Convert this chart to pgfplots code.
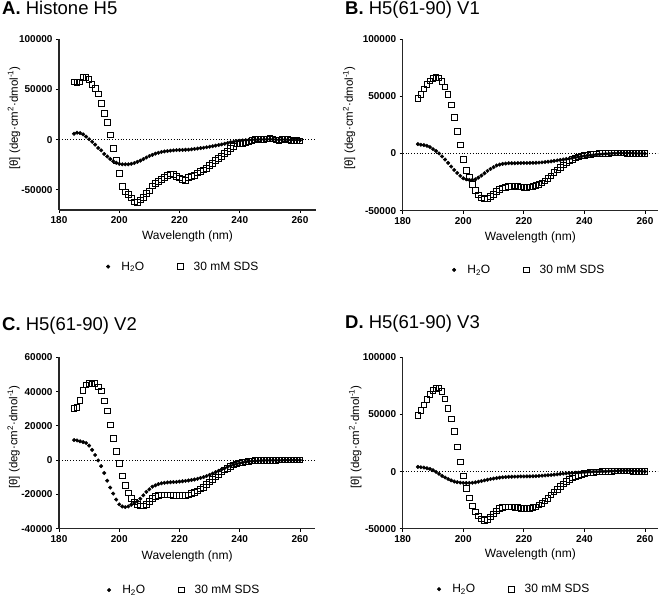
\documentclass[border=0pt]{standalone}
\usepackage{fontspec}
\setmainfont{Liberation Sans}
\usepackage{pgfplots}
\usepackage{pgfplotstable}
\pgfplotsset{compat=1.18}

\pgfplotstableread{
nm h s
185 5800 57400
186 6800 57000
187 6500 57400
188 5200 61700
189 2900 62000
190 300 59800
191 -2200 54800
192 -5000 51100
193 -8300 45200
194 -10700 36200
195 -14300 25900
196 -16800 16900
197 -19300 4600
198 -21500 -8600
199 -23000 -21000
200 -24100 -33900
201 -24600 -46500
202 -24600 -52100
203 -24600 -54800
204 -24100 -58100
205 -23300 -62100
206 -22200 -62700
207 -20900 -60100
208 -19400 -57800
209 -17800 -53800
210 -16300 -51100
211 -15200 -46100
212 -14000 -43800
213 -13100 -41500
214 -12300 -39500
215 -11800 -37800
216 -11400 -35500
217 -11000 -34200
218 -10700 -34500
219 -10500 -36900
220 -10300 -38200
221 -10300 -39500
222 -10100 -40500
223 -10000 -37800
224 -9700 -36500
225 -9300 -35500
226 -8900 -33000
227 -8500 -31500
228 -8100 -30000
229 -7600 -28500
230 -7100 -25500
231 -6600 -23500
232 -6000 -21000
233 -5400 -18500
234 -4800 -16500
235 -4100 -14000
236 -3400 -12000
237 -2700 -9000
238 -2100 -7000
239 -1600 -4500
240 -1200 -4000
241 -900 -3700
242 -600 -3300
243 -400 -2500
244 -200 -1000
245 0 0
246 0 500
247 200 300
248 100 0
249 200 500
250 300 1000
251 200 500
252 0 -500
253 -200 -800
254 0 300
255 100 500
256 -200 0
257 -400 -1000
258 -500 -1200
259 -500 -1000
260 -600 -1300
}\dataA

\pgfplotstableread{
nm h s
185 8200 47800
186 7600 51300
187 7300 56300
188 6700 60100
189 5600 63300
190 3800 65300
191 2100 66500
192 0 65900
193 -2600 62700
194 -5300 58000
195 -8200 51300
196 -11400 42500
197 -14400 31400
198 -17000 19300
199 -19600 7300
200 -21700 -5000
201 -22600 -14600
202 -23100 -21100
203 -23100 -27000
204 -22600 -32200
205 -21100 -36300
206 -19300 -38700
207 -17300 -39600
208 -15200 -39300
209 -13500 -37800
210 -12000 -35700
211 -10500 -33100
212 -9700 -31600
213 -9100 -30200
214 -8800 -29600
215 -8500 -29000
216 -8500 -28700
217 -8500 -28400
218 -8400 -28700
219 -8400 -29300
220 -8300 -29600
221 -8300 -29600
222 -8200 -29300
223 -8200 -28700
224 -8100 -28100
225 -8000 -27200
226 -7800 -25800
227 -7500 -24000
228 -7200 -22000
229 -6900 -19500
230 -6500 -16800
231 -6100 -14300
232 -5700 -12000
233 -5300 -9900
234 -4900 -8000
235 -4500 -6400
236 -4000 -5000
237 -3500 -3800
238 -3000 -2900
239 -2600 -2100
240 -2200 -1500
241 -1800 -1200
242 -1500 -900
243 -1200 -600
244 -900 -400
245 -700 -200
246 -500 0
247 -300 100
248 -200 200
249 0 300
250 100 400
251 200 400
252 300 300
253 300 300
254 300 200
255 300 200
256 200 100
257 100 0
258 0 -100
259 0 -200
260 -100 -200
}\dataB

\pgfplotstableread{
nm h s
185 11700 30000
186 11500 30900
187 11000 34800
188 10500 40500
189 10000 43800
190 8500 44900
191 6000 44500
192 3000 44700
193 -200 42800
194 -3500 40300
195 -7500 34600
196 -12000 28600
197 -16000 20600
198 -19500 12800
199 -23000 5100
200 -25800 -2100
201 -27000 -9300
202 -27400 -14800
203 -27000 -19100
204 -26000 -22400
205 -25000 -24500
206 -24000 -25900
207 -22500 -26800
208 -20500 -26800
209 -18500 -25900
210 -17000 -24100
211 -15500 -22400
212 -14700 -21200
213 -14000 -20600
214 -13500 -20200
215 -13200 -20200
216 -13000 -20200
217 -12900 -20400
218 -12800 -20600
219 -12700 -20600
220 -12500 -20600
221 -12300 -20600
222 -12100 -20600
223 -11900 -20200
224 -11600 -19600
225 -11300 -18900
226 -10900 -17900
227 -10400 -16900
228 -9900 -15800
229 -9300 -14300
230 -8600 -12700
231 -7800 -11300
232 -7000 -9800
233 -6200 -8400
234 -5400 -7000
235 -4700 -5800
236 -4000 -4700
237 -3300 -3700
238 -2700 -2900
239 -2200 -2200
240 -1800 -1700
241 -1400 -1300
242 -1100 -1000
243 -800 -700
244 -600 -500
245 -500 -300
246 -400 -200
247 -300 -200
248 -200 -100
249 -200 -100
250 -100 -100
251 -100 -100
252 -100 -100
253 -100 0
254 -100 0
255 0 0
256 0 0
257 0 0
258 0 0
259 0 0
260 0 0
}\dataC

\pgfplotstableread{
nm h s
185 4100 48900
186 3800 53300
187 3500 58300
188 2900 63000
189 2300 67400
190 1200 71200
191 -300 73000
192 -2000 73300
193 -3800 70300
194 -5200 63600
195 -6500 55100
196 -7700 46000
197 -8700 34900
198 -9300 21700
199 -9700 8500
200 -9900 -3800
201 -10000 -14700
202 -10000 -23100
203 -9800 -30200
204 -9400 -35200
205 -8900 -39000
206 -8300 -41300
207 -7700 -42800
208 -7100 -41900
209 -6600 -39800
210 -6100 -37200
211 -5700 -34600
212 -5300 -32500
213 -5000 -31600
214 -4800 -31100
215 -4600 -30800
216 -4500 -31100
217 -4400 -31400
218 -4400 -31600
219 -4300 -32200
220 -4300 -32500
221 -4200 -32500
222 -4200 -32200
223 -4100 -31600
224 -4000 -30800
225 -3800 -29300
226 -3600 -27800
227 -3400 -25800
228 -3200 -23700
229 -3000 -20500
230 -2700 -17900
231 -2400 -15500
232 -2100 -13200
233 -1800 -10800
234 -1600 -8800
235 -1400 -7000
236 -1200 -5600
237 -1000 -4100
238 -900 -3200
239 -700 -2300
240 -600 -1800
241 -400 -1200
242 -300 -900
243 -200 -600
244 -100 -400
245 0 -200
246 100 0
247 200 100
248 300 200
249 400 300
250 500 400
251 600 500
252 700 500
253 800 600
254 900 500
255 800 400
256 600 300
257 500 200
258 300 100
259 200 0
260 100 -100
}\dataD

\pgfplotsset{
  cdstyle/.style={
    scale only axis, anchor=south west,
    axis x line*=bottom, axis y line*=left,
    xmin=180, xtick={180,200,...,260},
    enlargelimits=false,
    tick align=outside, major tick length=3pt,
    tick style={black, line width=0.8pt},
    axis line style={black!85, line width=1.1pt},
    ticklabel style={font=\fontsize{10}{12}\selectfont\bfseries},
    /pgf/number format/assume math mode=true,
    scaled y ticks=false,
    yticklabel style={/pgf/number format/.cd, fixed, 1000 sep={}},
    xlabel={Wavelength (nm)},
    ylabel={[θ] (deg·cm\textsuperscript{2}·dmol\textsuperscript{-1})},
    xlabel style={font=\fontsize{12}{14}\selectfont, anchor=center},
    ylabel style={font=\fontsize{11.5}{14}\selectfont, anchor=center},
    legend columns=2,
    legend style={draw=none, fill=none, inner sep=0pt, outer sep=0pt, anchor=west,
      font=\fontsize{12}{14}\selectfont,
      /tikz/every even column/.append style={column sep=30pt}},
    legend image code/.code={\path (-4pt,0pt) (11pt,0pt); \draw[##1] plot coordinates {(0pt,0pt)};},
  },
  hstyle/.style={only marks, mark=*, mark size=1.8pt, black},
  sstyle/.style={only marks, mark=square, mark size=2.8pt, black, mark options={line width=0.9pt}},
}

\begin{document}
\begin{tikzpicture}
\useasboundingbox (0,0) rectangle (660pt,599pt);

\node[anchor=base west, inner sep=0pt, font=\fontsize{18.5}{20}\selectfont] at (2pt,584pt) {\textbf{A.} Histone H5};
\node[anchor=base west, inner sep=0pt, font=\fontsize{18.5}{20}\selectfont] at (345pt,584pt) {\textbf{B.} H5(61-90) V1};
\node[anchor=base west, inner sep=0pt, font=\fontsize{18.5}{20}\selectfont] at (2pt,268pt) {\textbf{C.} H5(61-90) V2};
\node[anchor=base west, inner sep=0pt, font=\fontsize{18.5}{20}\selectfont] at (345pt,270pt) {\textbf{D.} H5(61-90) V3};

% Panel A
\begin{axis}[cdstyle, at={(59pt,389pt)}, width=257pt, height=171pt,
  xmax=265.3, ymin=-70000, ymax=100000, ytick={-50000,0,50000,100000},
  xlabel style={at={(axis description cs:0.5,-0.155)}},
  ylabel style={at={(axis description cs:-0.175,0.538)}},
  legend style={at={(0.175,-0.331)}}]
\addplot[black, dotted, line width=0.8pt, forget plot] coordinates {(180,0) (265.3,0)};
\addplot[sstyle, forget plot] table[x=nm, y=s] {\dataA};
\addplot[hstyle] table[x=nm, y=h] {\dataA};
\addlegendentry{H\textsubscript{2}O}
\addlegendimage{sstyle}
\addlegendentry{30 mM SDS}
\end{axis}

% Panel B
\begin{axis}[cdstyle, at={(402.7pt,388.3pt)}, width=255.3pt, height=171.7pt,
  xmax=264.3, ymin=-50000, ymax=100000, ytick={-50000,0,50000,100000},
  xlabel style={at={(axis description cs:0.5,-0.156)}},
  ylabel style={at={(axis description cs:-0.21,0.54)}},
  legend style={at={(0.185,-0.345)}}]
\addplot[black, dotted, line width=0.8pt, forget plot] coordinates {(180,0) (264.3,0)};
\addplot[sstyle, forget plot] table[x=nm, y=s] {\dataB};
\addplot[hstyle] table[x=nm, y=h] {\dataB};
\addlegendentry{H\textsubscript{2}O}
\addlegendimage{sstyle}
\addlegendentry{30 mM SDS}
\end{axis}

% Panel C
\begin{axis}[cdstyle, at={(59pt,70.3pt)}, width=256.3pt, height=171.4pt,
  xmax=265.1, ymin=-40000, ymax=60000, ytick={-40000,-20000,0,20000,40000,60000},
  xlabel style={at={(axis description cs:0.5,-0.16)}},
  ylabel style={at={(axis description cs:-0.177,0.535)}},
  legend style={at={(0.179,-0.358)}}]
\addplot[black, dotted, line width=0.8pt, forget plot] coordinates {(180,0) (265.1,0)};
\addplot[sstyle, forget plot] table[x=nm, y=s] {\dataC};
\addplot[hstyle] table[x=nm, y=h] {\dataC};
\addlegendentry{H\textsubscript{2}O}
\addlegendimage{sstyle}
\addlegendentry{30 mM SDS}
\end{axis}

% Panel D
\begin{axis}[cdstyle, at={(402.7pt,70.3pt)}, width=255.3pt, height=171.4pt,
  xmax=264.3, ymin=-50000, ymax=100000, ytick={-50000,0,50000,100000},
  xlabel style={at={(axis description cs:0.5,-0.148)}},
  ylabel style={at={(axis description cs:-0.186,0.535)}},
  legend style={at={(0.126,-0.353)}}]
\addplot[black, dotted, line width=0.8pt, forget plot] coordinates {(180,0) (264.3,0)};
\addplot[sstyle, forget plot] table[x=nm, y=s] {\dataD};
\addplot[hstyle] table[x=nm, y=h] {\dataD};
\addlegendentry{H\textsubscript{2}O}
\addlegendimage{sstyle}
\addlegendentry{30 mM SDS}
\end{axis}
\end{tikzpicture}
\end{document}
